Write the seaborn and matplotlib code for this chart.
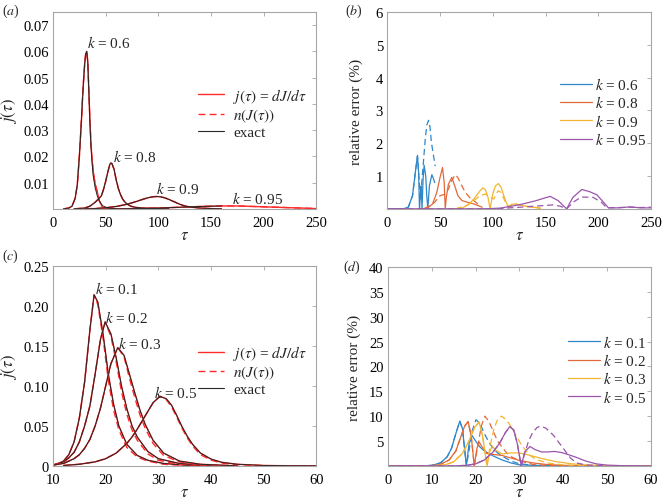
import numpy as np
import pandas as pd
import matplotlib
matplotlib.use("Agg")
import matplotlib.pyplot as plt
from matplotlib.lines import Line2D
import seaborn as sns

# ---------------- panel (a): j(tau) for large k ----------------
tau_a06 = [10, 15, 18, 21, 23, 25, 27, 28, 29, 30, 31, 32, 33, 34, 35, 36, 37, 38, 39, 40, 42, 44, 47, 52, 60]
exact_a06 = [0, 0.0003, 0.001, 0.004, 0.009, 0.02, 0.034, 0.042, 0.049, 0.055, 0.059, 0.060, 0.056, 0.045,
             0.033, 0.024, 0.018, 0.013, 0.0105, 0.008, 0.005, 0.003, 0.0012, 0.0003, 0]
j_a06 = [0, 0.0003, 0.001, 0.004, 0.009, 0.02, 0.034, 0.042, 0.049, 0.055, 0.059, 0.060, 0.056, 0.045,
         0.034, 0.025, 0.019, 0.015, 0.012, 0.0095, 0.0065, 0.003, 0.0005, 0, 0]

tau_a08 = [20, 30, 35, 40, 43, 46, 48, 50, 52, 54, 55, 56, 58, 60, 62, 64, 66, 68, 70, 74, 78, 84, 90, 100, 110]
exact_a08 = [0, 0.0003, 0.001, 0.0025, 0.0037, 0.005, 0.0075, 0.0105, 0.014, 0.017, 0.0175, 0.0172, 0.015,
             0.011, 0.0078, 0.0055, 0.0038, 0.0027, 0.0019, 0.001, 0.0006, 0.0003, 0.0002, 0.0001, 0]

tau_a09 = [30, 40, 50, 60, 70, 80, 85, 90, 95, 98, 102, 106, 110, 115, 120, 125, 130, 140, 150, 160]
exact_a09 = [0, 0.0001, 0.0004, 0.0009, 0.0017, 0.0029, 0.0036, 0.0042, 0.0046, 0.0047, 0.0046, 0.0042,
             0.0036, 0.0027, 0.0018, 0.0011, 0.0007, 0.0003, 0.0001, 0]

tau_a095 = [60, 80, 100, 120, 140, 150, 160]
exact_a095 = [0, 0.0001, 0.0003, 0.0006, 0.0009, 0.001, 0.0011]
tau_a095_j = [60, 80, 100, 120, 140, 150, 160, 175, 190, 205, 220, 235, 250]
j_a095 = [0, 0.0001, 0.0003, 0.0006, 0.0009, 0.001, 0.0011, 0.0011, 0.0009, 0.0007, 0.0005, 0.0003, 0.0001]

labels_a = ["0.6", "0.8", "0.9", "0.95"]
label_tau_a = [32.6, 57.3, 97.9, 169.9]
label_val_a = [0.0634, 0.0203, 0.0080, 0.0042]

# ---------------- panel (b): relative error for large k ----------------
tau_b06 = [0, 15, 20, 24, 27, 28.7, 29.8, 30.6, 31.4, 32.2, 33, 34, 35, 36.5, 37.5, 38.5, 40, 42.3, 43.5, 45]
err_b06 = [0, 0, 0.05, 0.4, 1.2, 1.63, 1.1, 0, 0.4, 0.7, 0, 0.9, 1.33, 1.0, 0.4, 0, 0.7, 1.04, 0.95, 0.8]
tau_b06d = [0, 15, 20, 24, 27, 28.7, 30, 31.5, 33, 34.5, 36, 37.5, 39.2, 40.5, 42, 44, 45.5]
err_b06d = [0, 0, 0.05, 0.4, 1.2, 1.6, 1.0, 0.3, 0.9, 1.5, 2.1, 2.55, 2.7, 2.5, 2.0, 1.6, 1.3]

tau_b08 = [30, 38, 43, 47, 50, 52.4, 54, 55, 56, 58, 61.2, 64, 67, 71, 76, 82, 90]
err_b08 = [0, 0.02, 0.15, 0.5, 0.95, 1.26, 0.8, 0, 0.35, 0.75, 0.96, 0.7, 0.4, 0.25, 0.2, 0.15, 0.05]
tau_b08d = [35, 45, 50, 55, 58, 61, 64.4, 67, 70, 74, 78, 82, 86]
err_b08d = [0, 0.2, 0.4, 0.45, 0.6, 0.85, 1.04, 0.95, 0.75, 0.5, 0.35, 0.25, 0.15]

tau_b09 = [60, 71, 78, 84, 88, 90.6, 93, 95.5, 97.5, 100, 102.5, 105.4, 108, 111, 114.6, 118, 122, 128, 135, 145]
err_b09 = [0, 0.02, 0.15, 0.38, 0.55, 0.64, 0.58, 0.35, 0, 0.45, 0.7, 0.77, 0.65, 0.35, 0.05, 0.14, 0.15, 0.1, 0.06, 0.02]
tau_b09d = [65, 75, 82, 88, 93, 97.5, 101, 105, 108, 112, 116, 120, 125, 130, 140, 148]
err_b09d = [0, 0.1, 0.25, 0.4, 0.45, 0.35, 0.3, 0.55, 0.5, 0.2, 0.05, 0.15, 0.12, 0.08, 0.05, 0.0]

tau_b095 = [0, 90, 107, 126, 140, 154.4, 162, 170, 176, 184.4, 192, 198.6, 205, 209.6, 220, 230, 240, 250]
err_b095 = [0, 0, 0.02, 0.13, 0.24, 0.38, 0.25, 0, 0.35, 0.59, 0.52, 0.43, 0.2, 0.03, 0.03, 0.06, 0.03, 0.03]
tau_b095d = [0, 90, 107, 126, 148, 157, 164, 170, 177, 184, 195, 203, 208, 220, 230, 240, 250]
err_b095d = [0, 0, 0.01, 0.05, 0.1, 0.12, 0.08, 0, 0.22, 0.36, 0.35, 0.2, 0.03, 0.04, 0.05, 0.04, 0.05]

# ---------------- panel (c): j(tau) for small k ----------------
tau_c01 = [10, 11, 12, 13, 14, 15, 16, 17, 17.8, 18.5, 19.5, 20.5, 21.5, 22.5, 24, 26, 28, 31, 35, 40]
exact_c01 = [0.001, 0.003, 0.006, 0.014, 0.03, 0.06, 0.105, 0.17, 0.214, 0.205, 0.165, 0.115, 0.077, 0.05,
             0.027, 0.013, 0.007, 0.003, 0.001, 0]
n_c01 = [0.001, 0.003, 0.006, 0.014, 0.03, 0.06, 0.105, 0.17, 0.214, 0.202, 0.16, 0.107, 0.07, 0.045,
         0.023, 0.011, 0.006, 0.002, 0.0005, 0]

tau_c02 = [10, 12, 13, 14, 15, 16, 17, 18, 19, 19.9, 21, 22, 23, 24, 25, 26, 28, 30, 34, 40]
exact_c02 = [0.001, 0.005, 0.01, 0.017, 0.03, 0.05, 0.075, 0.115, 0.158, 0.18, 0.165, 0.135, 0.1, 0.072,
             0.05, 0.036, 0.018, 0.009, 0.003, 0]
n_c02 = [0.001, 0.005, 0.01, 0.017, 0.03, 0.05, 0.075, 0.115, 0.158, 0.18, 0.162, 0.13, 0.093, 0.065,
         0.045, 0.032, 0.015, 0.007, 0.002, 0]

tau_c03 = [10, 12, 14, 15, 16, 17, 18, 19, 20, 21, 22.3, 23.5, 24.5, 25.5, 26.5, 27.5, 29, 31, 34, 38, 45]
exact_c03 = [0.001, 0.003, 0.009, 0.014, 0.022, 0.033, 0.05, 0.072, 0.1, 0.128, 0.148, 0.138, 0.115, 0.092,
             0.07, 0.052, 0.032, 0.016, 0.006, 0.002, 0]
n_c03 = [0.001, 0.003, 0.009, 0.014, 0.022, 0.033, 0.05, 0.072, 0.1, 0.128, 0.148, 0.136, 0.11, 0.086,
         0.064, 0.047, 0.028, 0.013, 0.005, 0.001, 0]

tau_c05 = [12, 15, 18, 20, 22, 24, 25, 26, 27, 28, 29, 30.3, 31.5, 32.5, 33.5, 34.5, 35.5, 36.5, 38, 40,
           42, 45, 50, 55, 60]
exact_c05 = [0.0005, 0.002, 0.005, 0.009, 0.016, 0.028, 0.036, 0.046, 0.057, 0.068, 0.079, 0.087, 0.084,
             0.076, 0.063, 0.049, 0.037, 0.027, 0.016, 0.0085, 0.0045, 0.002, 0.0005, 0.0001, 0]
n_c05 = [0.0005, 0.002, 0.005, 0.009, 0.016, 0.028, 0.036, 0.046, 0.057, 0.068, 0.079, 0.087, 0.083,
         0.074, 0.061, 0.047, 0.035, 0.025, 0.014, 0.0072, 0.0035, 0.0014, 0.0003, 0, 0]

labels_c = ["0.1", "0.2", "0.3", "0.5"]
label_tau_c = [18.0, 19.9, 22.4, 29.1]
label_val_c = [0.222, 0.186, 0.154, 0.092]

# ---------------- panel (d): relative error for small k ----------------
tau_d01 = [0, 8, 10, 12, 13.5, 14.5, 15.5, 16.4, 17, 17.9, 18.5, 19.2, 20, 21, 22, 24, 26, 28, 30, 35, 60]
err_d01 = [0, 0, 0.1, 0.6, 1.8, 3.5, 6.5, 9.0, 7.5, 0, 4.5, 6.1, 5.0, 3.8, 3.0, 2.0, 1.2, 0.6, 0.2, 0.05, 0]
tau_d01d = [0, 8, 10, 12, 13.5, 14.5, 15.5, 16.4, 17, 17.9, 18.5, 19.2, 20.1, 21, 22, 23, 24, 25, 26, 28, 30, 35]
err_d01d = [0, 0, 0.1, 0.6, 1.8, 3.5, 6.5, 9.0, 7.5, 0, 3, 7, 9.3, 8.5, 6.5, 4.8, 3.5, 2.6, 2.0, 1.0, 0.4, 0]

tau_d02 = [0, 10, 12, 14, 15.5, 16.5, 17.5, 18.3, 19, 19.7, 20.3, 20.8, 21.5, 22.5, 24, 26, 28, 30, 33, 36,
           40, 45, 60]
err_d02 = [0, 0.05, 0.3, 1.2, 3.0, 5.5, 8.0, 8.9, 6.0, 0, 3.5, 4.8, 3.8, 2.5, 2.3, 2.1, 1.6, 1.1, 0.6, 0.3,
           0.1, 0.02, 0]
tau_d02d = [0, 10, 12, 14, 15.5, 16.5, 17.5, 18.3, 19, 19.7, 20.5, 21.3, 22.1, 23, 24, 25, 26, 27, 28, 30,
            33, 36, 40]
err_d02d = [0, 0.05, 0.3, 1.2, 3.0, 5.5, 8.0, 8.9, 6.0, 0, 4, 8, 10, 9, 7, 5, 3.8, 2.7, 1.9, 1.0, 0.3, 0.1, 0]

tau_d03 = [0, 10, 13, 15, 17, 18.5, 19.8, 20.8, 21.6, 22.6, 23.2, 23.8, 24.5, 26, 28, 30, 32, 35, 38, 42,
           46, 50, 60]
err_d03 = [0, 0, 0.2, 0.8, 2.5, 5, 7.8, 8.8, 6, 0, 2.8, 4.0, 3.2, 2.4, 2.6, 2.6, 2.2, 1.5, 0.9, 0.4, 0.15,
           0.05, 0]
tau_d03d = [0, 10, 13, 15, 17, 18.5, 19.8, 20.8, 21.6, 22.6, 23.3, 24.2, 25, 25.9, 27, 28, 29, 30.5, 32.4,
            34, 37, 40, 45]
err_d03d = [0, 0, 0.2, 0.8, 2.5, 5, 7.8, 8.8, 6, 0, 4, 7.5, 9.3, 10, 9.3, 8, 6.5, 4.1, 2.1, 1.2, 0.5, 0.2, 0]

tau_d05 = [0, 15, 18, 20, 22, 24, 25.5, 26.8, 27.8, 28.7, 29.5, 30.4, 31.2, 32.4, 33.5, 35, 36.5, 38, 39.5,
           41, 43, 45, 47.5, 50, 53, 60]
err_d05 = [0, 0, 0.1, 0.4, 1.2, 2.8, 4.6, 6.7, 7.9, 7.2, 4.5, 0, 2.8, 3.9, 3.3, 2.8, 2.8, 2.9, 2.7, 2.3,
           1.7, 1.0, 0.4, 0.15, 0.05, 0]
tau_d05d = [0, 15, 18, 20, 22, 24, 25.5, 26.8, 27.8, 28.7, 29.5, 30.4, 31.2, 32, 33, 34, 34.7, 36, 37.8,
            40, 41.6, 43, 45, 48, 50]
err_d05d = [0, 0, 0.1, 0.4, 1.2, 2.8, 4.6, 6.7, 7.9, 7.2, 4.5, 0, 2.5, 4.8, 6.7, 7.7, 8.0, 7.6, 6.1, 3.5,
            1.6, 0.6, 0.2, 0.05, 0]

# ---------------- style ----------------
sns.set_style("white")
plt.rcParams['font.family'] = ['Liberation Serif', 'DejaVu Serif']
plt.rcParams['mathtext.fontset'] = 'stix'

RED = '#ff2a2a'
BLACK = '#262626'
MCOL = ['#2f86c8', '#e2693a', '#f2b531', '#9b55ab']
DASH = (0, (5, 3))
FS = 10.5

fig = plt.figure(figsize=(6.63, 5.02), dpi=100)
ax_a = fig.add_axes([0.080, 0.582, 0.397, 0.392])
ax_b = fig.add_axes([0.584, 0.582, 0.398, 0.392])
ax_c = fig.add_axes([0.080, 0.070, 0.397, 0.398])
ax_d = fig.add_axes([0.585, 0.070, 0.397, 0.396])


def draw(ax, x, y, color, ls='-', lw=0.8):
    sns.lineplot(x=x, y=y, ax=ax, color=color, linestyle=ls, linewidth=lw, estimator=None, sort=False)


def frame(ax):
    for s in ax.spines.values():
        s.set_color('#a6a6a6')
        s.set_linewidth(0.8)
    ax.tick_params(direction='in', top=True, right=True, length=3, width=0.6,
                   color='#a6a6a6', labelsize=FS, labelcolor='black')
    ax.tick_params(axis='x', pad=5)
    ax.tick_params(axis='y', pad=3)
    ax.set_xlabel(r'$\tau$', fontsize=12, labelpad=-1)


# (a)
for t, jj in [(tau_a06, j_a06), (tau_a08, exact_a08), (tau_a09, exact_a09), (tau_a095_j, j_a095)]:
    draw(ax_a, t, jj, RED, '-', 1.0)
    draw(ax_a, t, jj, RED, DASH, 1.0)
for t, ee in [(tau_a06, exact_a06), (tau_a08, exact_a08), (tau_a09, exact_a09), (tau_a095, exact_a095)]:
    draw(ax_a, t, ee, BLACK, '-', 0.7)
for lab, tx, ty in zip(labels_a, label_tau_a, label_val_a):
    ax_a.text(tx, ty, r'$k$ = ' + lab, fontsize=FS + 0.5, ha='left', va='center')
ax_a.set_xlim(0, 250)
ax_a.set_ylim(0, 0.075)
ax_a.set_xticks([0, 50, 100, 150, 200, 250])
ax_a.set_yticks([0, 0.01, 0.02, 0.03, 0.04, 0.05, 0.06, 0.07])
ax_a.set_yticklabels(['', '0.01', '0.02', '0.03', '0.04', '0.05', '0.06', '0.07'])
ax_a.set_ylabel(r'$j(\tau)$', fontsize=12, labelpad=3)
frame(ax_a)

# (b)
for (t, e, td, ed), c in zip([(tau_b06, err_b06, tau_b06d, err_b06d), (tau_b08, err_b08, tau_b08d, err_b08d),
                              (tau_b09, err_b09, tau_b09d, err_b09d), (tau_b095, err_b095, tau_b095d, err_b095d)],
                             MCOL):
    draw(ax_b, td, ed, c, DASH, 0.9)
    draw(ax_b, t, e, c, '-', 0.9)
ax_b.set_xlim(0, 250)
ax_b.set_ylim(0, 6)
ax_b.set_xticks([0, 50, 100, 150, 200, 250])
ax_b.set_yticks([0, 1, 2, 3, 4, 5, 6])
ax_b.set_yticklabels(['', '1', '2', '3', '4', '5', '6'])
ax_b.set_ylabel('relative error (%)', fontsize=FS + 0.5, labelpad=9)
frame(ax_b)

# (c)
for t, ee, nn in [(tau_c01, exact_c01, n_c01), (tau_c02, exact_c02, n_c02),
                  (tau_c03, exact_c03, n_c03), (tau_c05, exact_c05, n_c05)]:
    draw(ax_c, t, ee, RED, '-', 1.0)
    draw(ax_c, t, nn, RED, DASH, 1.0)
    draw(ax_c, t, ee, BLACK, '-', 0.7)
for lab, tx, ty in zip(labels_c, label_tau_c, label_val_c):
    ax_c.text(tx, ty, r'$k$ = ' + lab, fontsize=FS + 0.5, ha='left', va='center')
ax_c.set_xlim(10, 60)
ax_c.set_ylim(0, 0.25)
ax_c.set_xticks([10, 20, 30, 40, 50, 60])
ax_c.set_yticks([0, 0.05, 0.10, 0.15, 0.20, 0.25])
ax_c.set_yticklabels(['0', '0.05', '0.10', '0.15', '0.20', '0.25'])
ax_c.set_ylabel(r'$j(\tau)$', fontsize=12, labelpad=3)
frame(ax_c)

# (d)
for (t, e, td, ed), c in zip([(tau_d01, err_d01, tau_d01d, err_d01d), (tau_d02, err_d02, tau_d02d, err_d02d),
                              (tau_d03, err_d03, tau_d03d, err_d03d), (tau_d05, err_d05, tau_d05d, err_d05d)],
                             MCOL):
    draw(ax_d, td, ed, c, DASH, 0.9)
    draw(ax_d, t, e, c, '-', 0.9)
ax_d.set_xlim(0, 60)
ax_d.set_ylim(0, 40)
ax_d.set_xticks([0, 10, 20, 30, 40, 50, 60])
ax_d.set_yticks([0, 5, 10, 15, 20, 25, 30, 35, 40])
ax_d.set_yticklabels(['', '5', '10', '15', '20', '25', '30', '35', '40'])
ax_d.set_ylabel('relative error (%)', fontsize=FS + 0.5, labelpad=6)
frame(ax_d)

# legends
red_handles = [Line2D([], [], color=RED, lw=1.0),
               Line2D([], [], color=RED, lw=1.0, linestyle=DASH),
               Line2D([], [], color=BLACK, lw=0.8)]
red_labels = [r'$j(\tau)$ = $dJ/d\tau$', r'$n(J(\tau))$', 'exact']
for ax, top in [(ax_a, 0.625), (ax_c, 0.615)]:
    ax.legend(red_handles, red_labels, loc='upper left', bbox_to_anchor=(0.55, top), frameon=False,
              fontsize=FS + 0.5, handlelength=1.7, handletextpad=0.6, labelspacing=0.1,
              borderpad=0, borderaxespad=0)

k_handles = [Line2D([], [], color=c, lw=0.9) for c in MCOL]
ax_b.legend(k_handles, [r'$k$ = ' + s for s in labels_a], loc='upper left', bbox_to_anchor=(0.655, 0.675),
            frameon=False, fontsize=FS + 0.5, handlelength=2.1, handletextpad=0.2, labelspacing=0.15,
            borderpad=0, borderaxespad=0)
ax_d.legend(k_handles, [r'$k$ = ' + s for s in labels_c], loc='upper left', bbox_to_anchor=(0.684, 0.665),
            frameon=False, fontsize=FS + 0.5, handlelength=2.1, handletextpad=0.2, labelspacing=0.15,
            borderpad=0, borderaxespad=0)

# panel letters
for lx, ly, s in [(0.003, 0.977, 'a'), (0.521, 0.977, 'b'), (0.003, 0.490, 'c'), (0.518, 0.468, 'd')]:
    fig.text(lx, ly, '($' + s + '$)', fontsize=10, ha='left', va='center')

fig.savefig('out.png', dpi=100)
